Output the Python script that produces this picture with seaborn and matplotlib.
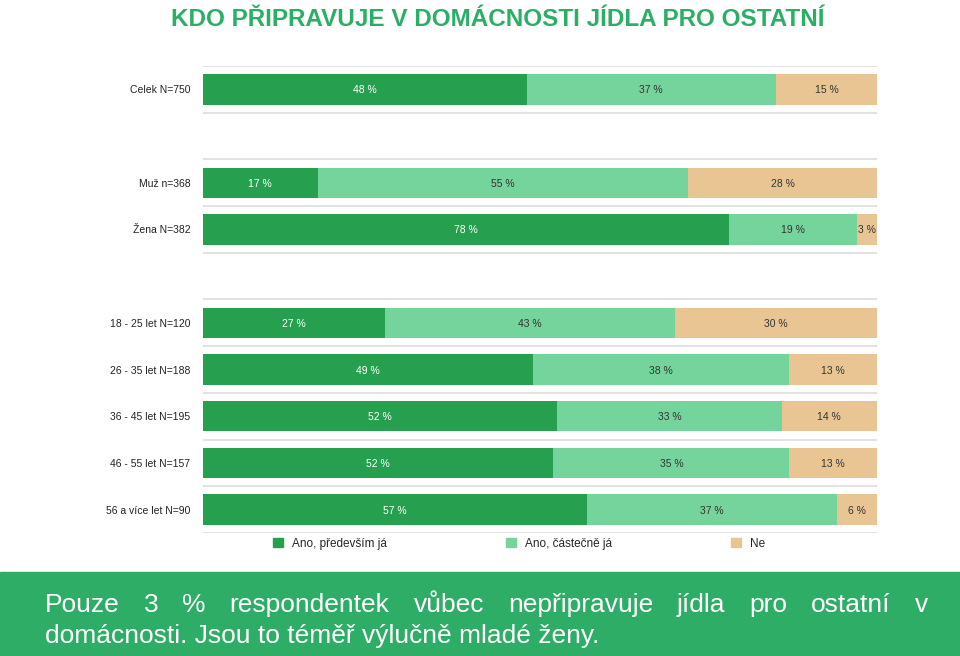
import numpy as np
import pandas as pd
import matplotlib
matplotlib.use("Agg")
import matplotlib.pyplot as plt
import matplotlib.patches as mpatches
from matplotlib import font_manager
import seaborn as sns

# data
groups = ["Celek N=750", "Muž n=368", "Žena N=382", "18 - 25 let N=120", "26 - 35 let N=188",
          "36 - 45 let N=195", "46 - 55 let N=157", "56 a více let N=90"]
mainly_me = [48, 17, 78, 27, 49, 52, 52, 57]
partly_me = [37, 55, 19, 43, 38, 33, 35, 37]
no_answer = [15, 28, 3, 30, 13, 14, 13, 6]
series_names = ["Ano, především já", "Ano, částečně já", "Ne"]
# gap rows in the layout
row_order = ["Celek N=750", "gap1", "Muž n=368", "Žena N=382", "gap2", "18 - 25 let N=120",
             "26 - 35 let N=188", "36 - 45 let N=195", "46 - 55 let N=157", "56 a více let N=90"]

title = "KDO PŘIPRAVUJE V DOMÁCNOSTI JÍDLA PRO OSTATNÍ"
note_line1 = "Pouze 3 % respondentek vůbec nepřipravuje jídla pro ostatní v"
note_line2 = "domácnosti. Jsou to téměř výlučně mladé ženy."

colors = ["#26A04F", "#75D39C", "#E9C593"]
text_colors = ["white", "#333333", "#333333"]
title_green = "#2BAE66"
banner_green = "#2EAD67"

sns.set_theme(style="white")
names = {f.name for f in font_manager.fontManager.ttflist}
narrow = "Liberation Sans Narrow" if "Liberation Sans Narrow" in names else "Liberation Sans"
plt.rcParams["font.family"] = [narrow, "DejaVu Sans"]

df = pd.DataFrame({"group": groups, "a": mainly_me, "b": partly_me, "c": no_answer})
tot = df[["a", "b", "c"]].sum(axis=1)
df["s1"] = df["a"] / tot * 100
df["s2"] = (df["a"] + df["b"]) / tot * 100
df["s3"] = 100.0

fig = plt.figure(figsize=(9.6, 6.56), dpi=100)
ax = fig.add_axes([203 / 960, 123 / 656, 674 / 960, 467 / 656])

for col, c in zip(["s3", "s2", "s1"], colors[::-1]):
    sns.barplot(data=df, x=col, y="group", order=row_order, color=c, width=0.65,
                saturation=1, orient="h", linewidth=0, ax=ax)

ax.set_xlim(0, 100)
ax.set_ylim(9.5, -0.5)
ax.set_xlabel("")
ax.set_ylabel("")
ax.set_xticks([])
ax.set_yticks(range(len(row_order)))
ax.set_yticklabels([g if not g.startswith("gap") else "" for g in row_order],
                   fontsize=7.5, color="#222222")
ax.tick_params(axis="y", length=0, pad=9)
for s in ax.spines.values():
    s.set_visible(False)

for y in np.arange(-0.5, 10, 1.0):
    ax.axhline(y, color="#DDDDDD", lw=1.2, zorder=0)

# value labels
for _, r in df.iterrows():
    yi = row_order.index(r["group"])
    lefts = [0, r["s1"], r["s2"]]
    rights = [r["s1"], r["s2"], r["s3"]]
    vals = [r["a"], r["b"], r["c"]]
    for l, rr, v, tc in zip(lefts, rights, vals, text_colors):
        ax.text((l + rr) / 2, yi, f"{v} %", ha="center", va="center_baseline",
                fontsize=7.5, color=tc)

# legend
handles = [mpatches.Patch(color=c, label=n) for c, n in zip(colors, series_names)]
fig.legend(handles=handles, loc="center", bbox_to_anchor=(0.541, 1 - 544 / 656), ncol=3,
           frameon=False, fontsize=8.5, handlelength=0.8, handleheight=0.8,
           handletextpad=0.8, columnspacing=10.1)

fig.text(0.518, 1 - 19 / 656, title, ha="center", va="center", fontsize=17.5,
         fontweight="bold", color=title_green)

# bottom banner
fig.patches.append(mpatches.Rectangle((0, 0), 1, 84 / 656, transform=fig.transFigure,
                                      color=banner_green, zorder=0))

# justified first line
fig.canvas.draw()
renderer = fig.canvas.get_renderer()
words = note_line1.split()
x0, x1 = 45 / 960, 928 / 960
y1 = 1 - 605 / 656
objs = [fig.text(0, y1, w, fontsize=19, color="white", va="center", ha="left") for w in words]
widths = [o.get_window_extent(renderer).width / fig.bbox.width for o in objs]
gap = (x1 - x0 - sum(widths)) / (len(words) - 1)
x = x0
for o, w in zip(objs, widths):
    o.set_x(x)
    x += w + gap
fig.text(x0, 1 - 636 / 656, note_line2, fontsize=19, color="white", va="center", ha="left")

fig.savefig("out.png", dpi=100)
